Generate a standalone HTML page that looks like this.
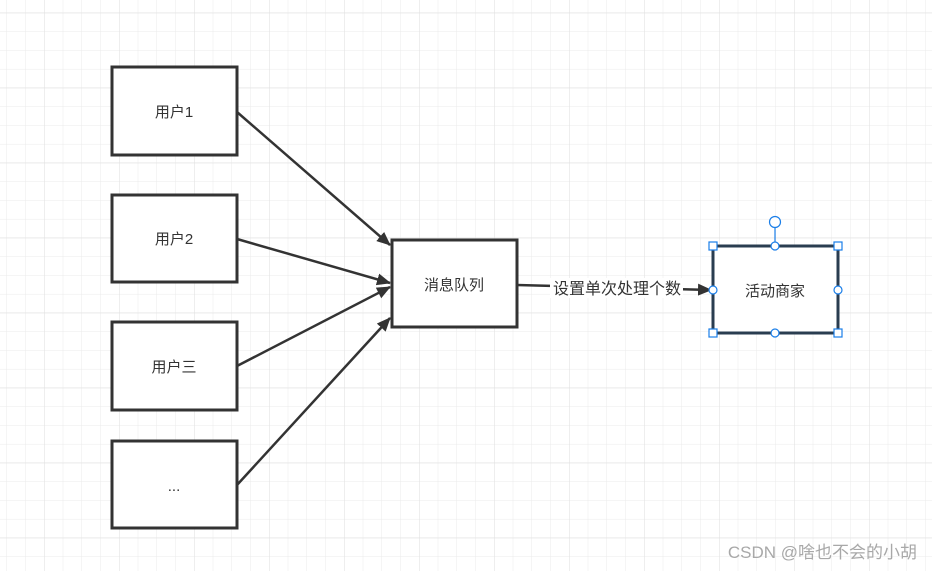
<!DOCTYPE html>
<html><head><meta charset="utf-8"><style>
body{margin:0;width:932px;height:571px;overflow:hidden;background:#fff;}
svg{display:block}
text{font-family:"Liberation Sans","Noto Sans CJK SC",sans-serif;}
</style></head><body>
<svg width="932" height="571" xmlns="http://www.w3.org/2000/svg">
<defs>
<pattern id="g" x="6.5" y="12.7" width="18.75" height="18.75" patternUnits="userSpaceOnUse">
<path d="M0 0H18.75M0 0V18.75" stroke="#ebebeb" stroke-width="1" fill="none"/>
</pattern>
<pattern id="G" x="44" y="12.7" width="75" height="75" patternUnits="userSpaceOnUse">
<path d="M0 0H75M0 0V75" stroke="#dedede" stroke-width="1" fill="none"/>
</pattern>
<marker id="b" markerWidth="14" markerHeight="12" refX="13" refY="6" orient="auto" markerUnits="userSpaceOnUse">
<path d="M0,0 L14,6 L0,12 Z" fill="#333"/>
</marker>
</defs>
<rect width="932" height="571" fill="url(#g)"/>
<rect width="932" height="571" fill="url(#G)"/>
<g fill="#fff" stroke="#333" stroke-width="3">
<rect x="112" y="67" width="125" height="88"/>
<rect x="112" y="195" width="125" height="87"/>
<rect x="112" y="322" width="125" height="88"/>
<rect x="112" y="441" width="125" height="87"/>
<rect x="392" y="240" width="125" height="87"/>
</g>
<rect x="713" y="246" width="125" height="87" fill="#fff" stroke="#2a3d50" stroke-width="3"/>
<g stroke="#333" stroke-width="2.5" fill="none">
<line x1="237" y1="112" x2="390" y2="245" marker-end="url(#b)"/>
<line x1="237" y1="239" x2="390" y2="283" marker-end="url(#b)"/>
<line x1="237" y1="366" x2="390" y2="287" marker-end="url(#b)"/>
<line x1="237" y1="485" x2="390" y2="318" marker-end="url(#b)"/>
<line x1="517" y1="285" x2="711" y2="290" marker-end="url(#b)"/>
</g>
<rect x="550" y="278" width="133" height="20" fill="#fff"/>
<text x="617" y="294" font-size="16" text-anchor="middle" fill="#333">设置单次处理个数</text>
<g font-size="15" fill="#333" text-anchor="middle">
<text x="174" y="117">用户1</text>
<text x="174" y="244">用户2</text>
<text x="174" y="372">用户三</text>
<text x="174" y="491">...</text>
<text x="454" y="290">消息队列</text>
<text x="775" y="296">活动商家</text>
</g>
<g stroke="#1a7ee8" stroke-width="1.2" fill="#fff">
<line x1="775" y1="228" x2="775" y2="246"/>
<circle cx="775" cy="222" r="5.5"/>
<rect x="709" y="242" width="8" height="8"/>
<rect x="834" y="242" width="8" height="8"/>
<rect x="709" y="329" width="8" height="8"/>
<rect x="834" y="329" width="8" height="8"/>
<circle cx="775" cy="246" r="4"/>
<circle cx="775" cy="333" r="4"/>
<circle cx="713" cy="290" r="4"/>
<circle cx="838" cy="290" r="4"/>
</g>
<text x="917" y="558" font-size="17" text-anchor="end" fill="#a8a8a8">CSDN @啥也不会的小胡</text>
</svg>
</body></html>
